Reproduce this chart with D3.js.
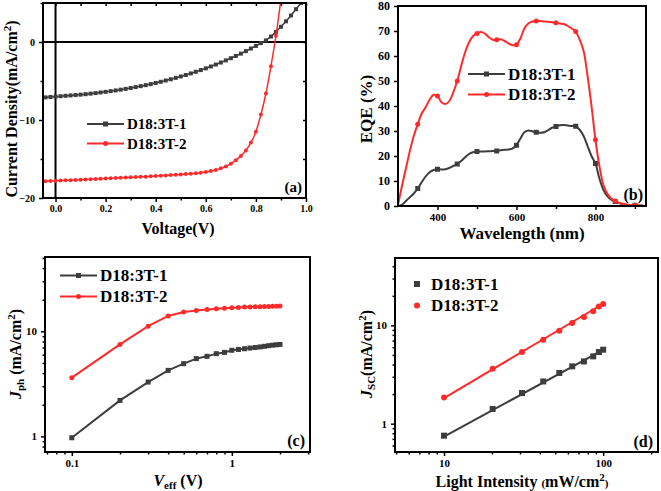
<!DOCTYPE html>
<html><head><meta charset="utf-8">
<script src="https://cdn.jsdelivr.net/npm/d3@7"></script>
<style>
body{margin:0;background:#fff}
svg{display:block}
text{font-family:"Liberation Serif","Times New Roman",serif;font-weight:bold;fill:#000}
</style>
</head><body>
<svg id="chart" width="661" height="491"></svg>
<script>
// ---------- DATA ----------
const seriesNames = ["D18:3T-1", "D18:3T-2"];
const seriesColors = ["#3d3d3d", "#ff2b2b"];

// (a) J-V curves
const jvVoltage = [-0.04,-0.02,0.00,0.02,0.04,0.06,0.08,0.10,0.12,0.14,0.16,0.18,0.20,0.22,0.24,0.26,0.28,0.30,0.32,0.34,0.36,0.38,0.40,0.42,0.44,0.46,0.48,0.50,0.52,0.54,0.56,0.58,0.60,0.62,0.64,0.66,0.68,0.70,0.72,0.74,0.76,0.78,0.80,0.82,0.84,0.86,0.88,0.90,0.92,0.94,0.96,0.98];
const jvBlack = [-7.10,-7.05,-7.00,-6.95,-6.90,-6.85,-6.80,-6.75,-6.69,-6.62,-6.55,-6.47,-6.39,-6.30,-6.21,-6.11,-6.01,-5.90,-5.78,-5.66,-5.53,-5.40,-5.25,-5.10,-4.94,-4.78,-4.60,-4.42,-4.23,-4.03,-3.82,-3.60,-3.38,-3.14,-2.89,-2.63,-2.36,-2.08,-1.79,-1.49,-1.17,-0.84,-0.50,-0.14,0.20,0.70,1.30,1.95,2.65,3.40,4.20,5.00];
const jvRed = [-17.85,-17.82,-17.80,-17.77,-17.74,-17.71,-17.68,-17.65,-17.62,-17.59,-17.56,-17.53,-17.50,-17.47,-17.44,-17.41,-17.38,-17.35,-17.32,-17.29,-17.26,-17.22,-17.18,-17.14,-17.10,-17.06,-17.02,-16.98,-16.93,-16.88,-16.82,-16.75,-16.66,-16.55,-16.40,-16.20,-15.95,-15.60,-15.15,-14.60,-13.90,-12.90,-11.50,-9.30,-6.60,-3.10,0.80,5.50];
const jvXTicks = [0.0,0.2,0.4,0.6,0.8,1.0];
const jvYTicks = [-20,-10,0];

// (b) EQE spectra
const eqeWave = [300,310,320,330,340,350,360,370,380,390,400,410,420,430,440,450,460,470,480,490,500,510,520,530,540,550,560,570,580,590,600,610,620,630,640,650,660,670,680,690,700,710,720,730,740,750,760,770,780,790,800,810,820,830,840,850,860,870,880,890,900,910,920];
const eqeBlack = [0,0.5,2,3.5,5,7,9.5,11.8,13.5,14.4,14.7,14.6,14.7,15.2,16,16.8,18,19.5,20.8,21.5,21.8,21.8,21.8,21.9,22,22,22.3,22.5,22.6,23,24.3,27,29.5,30.2,29.9,29.5,29.3,29.5,30.3,31.3,31.8,32.3,32.4,32.2,32,31.9,30.5,28,24,20,17,11,6.5,4,2.5,1.8,1.2,0.8,0.5,0.4,0.3,0.2,0.2];
const eqeRed = [0.5,8,15,22,28,32.7,37,39.5,42.5,44.5,44,41.5,40.8,42,45.5,50,56,61.5,65.5,68,69,69.6,69,67.5,66.5,66.5,66.7,66,65,64.3,64.5,67,71,73,73.8,74,74,73.8,73.7,73.5,73.3,73,72.8,72,71,69.8,66.5,62,52,40,26.5,16,8.5,5,3,2,1.2,0.8,0.5,0.4,0.3,0.2,0.2];
const eqeMarkWave = [350,400,450,500,550,600,650,700,750,800,850,900];
const eqeXTicks = [400,600,800];
const eqeXMinor = [500,700,900];
const eqeYTicks = [0,10,20,30,40,50,60,70,80];

// (c) Jph vs Veff
const vEff = [0.1,0.2,0.3,0.4,0.5,0.6,0.7,0.8,0.9,1.0,1.1,1.2,1.3,1.4,1.5,1.6,1.7,1.8,1.9,2.0];
const jphBlack = [0.97,2.2,3.29,4.25,4.92,5.5,5.78,6.13,6.3,6.6,6.72,6.83,6.93,7.02,7.1,7.2,7.3,7.38,7.45,7.5];
const jphRed = [3.62,7.5,11.2,14.0,15.3,15.8,16.1,16.4,16.6,16.8,16.9,17.0,17.05,17.1,17.15,17.2,17.25,17.3,17.35,17.4];
const cXTicks = [0.1,1];
const cYTicks = [1,10];

// (d) Jsc vs light intensity
const lightInt = [10,20.2,30.9,42,53,63.9,75.7,86.6,94,100];
const jscBlack = [0.755,1.41,2.05,2.69,3.28,3.83,4.3,4.84,5.36,5.66];
const jscRed = [1.85,3.63,5.36,7.16,8.83,10.6,12.2,13.9,15.6,16.5];
const fitInt = [10,100];
const fitBlack = [0.74,5.62];
const fitRed = [1.82,16.6];
const dXTicks = [10,100];
const dYTicks = [1,10];

// ---------- DRAWING ----------
const svg = d3.select("#chart");
let clipId = 0;

function frame(g, x0, y0, x1, y1) {
  g.append("rect").attr("x", x0).attr("y", y0).attr("width", x1 - x0).attr("height", y1 - y0)
    .attr("fill", "none").attr("stroke", "#000").attr("stroke-width", 2);
}
function clip(x0, y0, x1, y1) {
  const id = "clip" + (clipId++);
  svg.append("clipPath").attr("id", id).append("rect")
    .attr("x", x0).attr("y", y0).attr("width", x1 - x0).attr("height", y1 - y0);
  return "url(#" + id + ")";
}
function styleAxis(sel, fs) {
  sel.select(".domain").remove();
  sel.selectAll("line").attr("stroke", "#000").attr("stroke-width", 1.5);
  sel.selectAll("text").style("font-size", fs + "px").style("font-family", '"Liberation Serif","Times New Roman",serif').style("font-weight", "bold").attr("fill", "#000");
}
function minorLog(dom) {
  const out = [];
  for (let e = -3; e < 4; e++) for (let m = 1; m < 10; m++) {
    const v = m * Math.pow(10, e);
    if (v >= dom[0] && v <= dom[1]) out.push(v);
  }
  return out;
}
function marker(g, type, x, y, color, size) {
  if (type === 0) {
    g.append("rect").attr("x", x - size / 2).attr("y", y - size / 2).attr("width", size).attr("height", size).attr("fill", color);
  } else {
    g.append("circle").attr("cx", x).attr("cy", y).attr("r", size / 2).attr("fill", color);
  }
}
function legend(g, x, ys, withLine, fs) {
  seriesNames.forEach((name, i) => {
    if (withLine) {
      g.append("line").attr("x1", x).attr("x2", x + 37).attr("y1", ys[i]).attr("y2", ys[i])
        .attr("stroke", seriesColors[i]).attr("stroke-width", 2);
      marker(g, i, x + 18.5, ys[i], seriesColors[i], 5);
      g.append("text").attr("x", x + 40).attr("y", ys[i] + fs * 0.34).style("font-size", fs + "px").text(name);
    } else {
      marker(g, i, x, ys[i], seriesColors[i], 6);
      g.append("text").attr("x", x + 14).attr("y", ys[i] + fs * 0.34).style("font-size", fs + "px").text(name);
    }
  });
}

// ===== Panel (a) =====
{
  const L = 43, R = 306, T = 3, B = 198;
  const x = d3.scaleLinear().domain([-0.05, 1.0]).range([L, R]);
  const y = d3.scaleLinear().domain([-20, 5]).range([B, T]);
  const g = svg.append("g");
  const cp = clip(L, T, R, B);
  g.append("g").attr("transform", `translate(0,${B})`)
    .call(d3.axisBottom(x).tickValues(jvXTicks).tickFormat(d3.format(".1f")).tickSize(4).tickPadding(3))
    .call(s => styleAxis(s, 10));
  g.append("g").attr("transform", `translate(0,${B})`)
    .call(d3.axisBottom(x).tickValues([0.1,0.3,0.5,0.7,0.9]).tickFormat("").tickSize(2.5))
    .call(s => styleAxis(s, 10));
  g.append("g").attr("transform", `translate(${L},0)`)
    .call(d3.axisLeft(y).tickValues(jvYTicks).tickSize(4).tickPadding(4))
    .call(s => styleAxis(s, 10));
  g.append("g").attr("transform", `translate(${L},0)`)
    .call(d3.axisLeft(y).tickValues([-15,-5,5]).tickFormat("").tickSize(2.5))
    .call(s => styleAxis(s, 10));
  g.append("g").attr("transform", `translate(0,${T})`)
    .call(d3.axisTop(x).tickValues(d3.range(0, 1.01, 0.1)).tickFormat("").tickSize(-3))
    .call(s => styleAxis(s, 10));
  g.append("g").attr("transform", `translate(${R},0)`)
    .call(d3.axisRight(y).tickValues([-15,-10,-5,0]).tickFormat("").tickSize(-3))
    .call(s => styleAxis(s, 10));
  g.append("line").attr("x1", L).attr("x2", R).attr("y1", y(0)).attr("y2", y(0)).attr("stroke", "#000").attr("stroke-width", 2);
  g.append("line").attr("x1", x(0)).attr("x2", x(0)).attr("y1", T).attr("y2", B).attr("stroke", "#000").attr("stroke-width", 2);
  const dg = g.append("g").attr("clip-path", cp);
  [jvBlack, jvRed].forEach((vals, i) => {
    const pts = vals.map((v, k) => [jvVoltage[k], v]);
    dg.append("path").attr("d", d3.line().x(d => x(d[0])).y(d => y(d[1])).curve(d3.curveMonotoneX)(pts))
      .attr("fill", "none").attr("stroke", seriesColors[i]).attr("stroke-width", 1.5);
    pts.forEach(p => marker(dg, i, x(p[0]), y(p[1]), seriesColors[i], 4));
  });
  frame(g, L, T, R, B);
  legend(g, 87, [124, 143.5], true, 15);
  g.append("text").attr("x", 302).attr("y", 192).attr("text-anchor", "end").style("font-size", "15px").text("(a)");
  g.append("text").attr("x", 178).attr("y", 234).attr("text-anchor", "middle").style("font-size", "16px").text("Voltage(V)");
  const yt = g.append("text").attr("transform", "translate(17,109) rotate(-90)").attr("text-anchor", "middle").style("font-size", "16px");
  yt.append("tspan").text("Current Density(mA/cm");
  yt.append("tspan").attr("dy", -6).style("font-size", "11px").text("2");
  yt.append("tspan").attr("dy", 6).text(")");
}

// ===== Panel (b) =====
{
  const L = 398, R = 646, T = 6, B = 206;
  const x = d3.scaleLinear().domain([300, 928]).range([L, R]);
  const y = d3.scaleLinear().domain([0, 80]).range([B, T]);
  const g = svg.append("g");
  const cp = clip(L, T, R, B);
  g.append("g").attr("transform", `translate(0,${B})`)
    .call(d3.axisBottom(x).tickValues(eqeXTicks).tickSize(4).tickPadding(3))
    .call(s => styleAxis(s, 11));
  g.append("g").attr("transform", `translate(0,${B})`)
    .call(d3.axisBottom(x).tickValues(eqeXMinor).tickFormat("").tickSize(3))
    .call(s => styleAxis(s, 11));
  g.append("g").attr("transform", `translate(${L},0)`)
    .call(d3.axisLeft(y).tickValues(eqeYTicks).tickSize(4).tickPadding(4))
    .call(s => styleAxis(s, 12));
  const dg = g.append("g").attr("clip-path", cp);
  [eqeBlack, eqeRed].forEach((vals, i) => {
    const pts = vals.map((v, k) => [eqeWave[k], v]);
    dg.append("path").attr("d", d3.line().x(d => x(d[0])).y(d => y(d[1])).curve(d3.curveCatmullRom)(pts))
      .attr("fill", "none").attr("stroke", seriesColors[i]).attr("stroke-width", 2);
    pts.filter(p => eqeMarkWave.includes(p[0])).forEach(p => marker(dg, i, x(p[0]), y(p[1]), seriesColors[i], 5));
  });
  frame(g, L, T, R, B);
  legend(g, 468, [74, 94.5], true, 17);
  g.append("text").attr("x", 643).attr("y", 200).attr("text-anchor", "end").style("font-size", "16px").text("(b)");
  g.append("text").attr("x", 522).attr("y", 238.5).attr("text-anchor", "middle").style("font-size", "17px").text("Wavelength (nm)");
  g.append("text").attr("transform", "translate(372,109) rotate(-90)").attr("text-anchor", "middle").style("font-size", "17px").text("EQE (%)");
}

// ===== Panel (c) =====
{
  const L = 45, R = 310, T = 257, B = 452;
  const x = d3.scaleLog().domain([0.068, 3.08]).range([L, R]);
  const y = d3.scaleLog().domain([0.71, 51]).range([B, T]);
  const g = svg.append("g");
  g.append("g").attr("transform", `translate(0,${B})`)
    .call(d3.axisBottom(x).tickValues(cXTicks).tickFormat(d => String(d)).tickSize(4).tickPadding(3))
    .call(s => styleAxis(s, 11));
  g.append("g").attr("transform", `translate(0,${B})`)
    .call(d3.axisBottom(x).tickValues(minorLog(x.domain()).filter(v => !cXTicks.includes(v))).tickFormat("").tickSize(2.5))
    .call(s => styleAxis(s, 11));
  g.append("g").attr("transform", `translate(${L},0)`)
    .call(d3.axisLeft(y).tickValues(cYTicks).tickFormat(d => String(d)).tickSize(4).tickPadding(4))
    .call(s => styleAxis(s, 11));
  g.append("g").attr("transform", `translate(${L},0)`)
    .call(d3.axisLeft(y).tickValues(minorLog(y.domain()).filter(v => !cYTicks.includes(v))).tickFormat("").tickSize(2.5))
    .call(s => styleAxis(s, 11));
  [jphBlack, jphRed].forEach((vals, i) => {
    const pts = vals.map((v, k) => [vEff[k], v]);
    g.append("path").attr("d", d3.line().x(d => x(d[0])).y(d => y(d[1]))(pts))
      .attr("fill", "none").attr("stroke", seriesColors[i]).attr("stroke-width", 2);
    pts.forEach(p => marker(g, i, x(p[0]), y(p[1]), seriesColors[i], 5));
  });
  frame(g, L, T, R, B);
  legend(g, 60, [275.5, 296.5], true, 17);
  g.append("text").attr("x", 305).attr("y", 446).attr("text-anchor", "end").style("font-size", "16px").text("(c)");
  const xt = g.append("text").attr("x", 178).attr("y", 486).attr("text-anchor", "middle").style("font-size", "16px");
  xt.append("tspan").style("font-style", "italic").text("V");
  xt.append("tspan").attr("dy", 3).style("font-size", "11px").text("eff");
  xt.append("tspan").attr("dy", -3).text(" (V)");
  const yt = g.append("text").attr("transform", "translate(21,354) rotate(-90)").attr("text-anchor", "middle").style("font-size", "16px");
  yt.append("tspan").style("font-style", "italic").text("J");
  yt.append("tspan").attr("dy", 3).style("font-size", "11px").text("ph");
  yt.append("tspan").attr("dy", -3).text(" (mA/cm");
  yt.append("tspan").attr("dy", -6).style("font-size", "11px").text("2");
  yt.append("tspan").attr("dy", 6).text(")");
}

// ===== Panel (d) =====
{
  const L = 395, R = 658, T = 258, B = 452;
  const x = d3.scaleLog().domain([4.92, 221]).range([L, R]);
  const y = d3.scaleLog().domain([0.515, 48.5]).range([B, T]);
  const g = svg.append("g");
  g.append("g").attr("transform", `translate(0,${B})`)
    .call(d3.axisBottom(x).tickValues(dXTicks).tickFormat(d => String(d)).tickSize(4).tickPadding(3))
    .call(s => styleAxis(s, 11));
  g.append("g").attr("transform", `translate(0,${B})`)
    .call(d3.axisBottom(x).tickValues(minorLog(x.domain()).filter(v => !dXTicks.includes(v))).tickFormat("").tickSize(2.5))
    .call(s => styleAxis(s, 11));
  g.append("g").attr("transform", `translate(${L},0)`)
    .call(d3.axisLeft(y).tickValues(dYTicks).tickFormat(d => String(d)).tickSize(4).tickPadding(4))
    .call(s => styleAxis(s, 11));
  g.append("g").attr("transform", `translate(${L},0)`)
    .call(d3.axisLeft(y).tickValues(minorLog(y.domain()).filter(v => !dYTicks.includes(v))).tickFormat("").tickSize(2.5))
    .call(s => styleAxis(s, 11));
  [fitBlack, fitRed].forEach((vals, i) => {
    const pts = vals.map((v, k) => [fitInt[k], v]);
    g.append("path").attr("d", d3.line().x(d => x(d[0])).y(d => y(d[1]))(pts))
      .attr("fill", "none").attr("stroke", seriesColors[i]).attr("stroke-width", 2);
  });
  [jscBlack, jscRed].forEach((vals, i) => {
    vals.forEach((v, k) => marker(g, i, x(lightInt[k]), y(v), seriesColors[i], 6));
  });
  frame(g, L, T, R, B);
  legend(g, 417, [284, 305.5], false, 17);
  g.append("text").attr("x", 653).attr("y", 447).attr("text-anchor", "end").style("font-size", "16px").text("(d)");
  const xt = g.append("text").attr("x", 522).attr("y", 487).attr("text-anchor", "middle").style("font-size", "16px");
  xt.append("tspan").text("Light Intensity ");
  xt.append("tspan").style("font-size", "11px").text("(");
  xt.append("tspan").text("mW/cm");
  xt.append("tspan").attr("dy", -6).style("font-size", "11px").text("2");
  xt.append("tspan").attr("dy", 6).style("font-size", "11px").text(")");
  const yt = g.append("text").attr("transform", "translate(372,354) rotate(-90)").attr("text-anchor", "middle").style("font-size", "16px");
  yt.append("tspan").style("font-style", "italic").text("J");
  yt.append("tspan").attr("dy", 3).style("font-size", "11px").text("SC");
  yt.append("tspan").attr("dy", -3).text("(mA/cm");
  yt.append("tspan").attr("dy", -6).style("font-size", "11px").text("2");
  yt.append("tspan").attr("dy", 6).text(")");
}
</script>
</body></html>
